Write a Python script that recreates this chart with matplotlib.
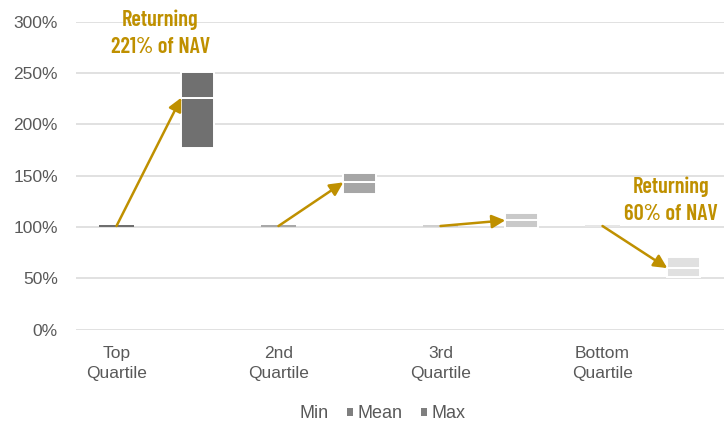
import matplotlib
matplotlib.use("Agg")
import matplotlib.pyplot as plt
from matplotlib.patches import Patch
from matplotlib import font_manager

# ---- data ----
categories = ["Top\nQuartile", "", "2nd\nQuartile", "", "3rd\nQuartile", "", "Bottom\nQuartile", ""]
start_value = [100, 100, 100, 100]          # invested (100% of NAV)
start_top = [102, 102, 102, 102]
min_values = [177, 132, 99.5, 51.5]
mean_values = [226, 143.5, 106.5, 60]
max_values = [251, 153, 114, 71]
quartile_colors = ["#707070", "#a6a6a6", "#c9c9c9", "#e0e0e0"]
start_colors = ["#6e6e6e", "#a8a8a8", "#cfcfcf", "#e6e6e6"]
yticks = [0, 50, 100, 150, 200, 250, 300]
legend_labels = ["Min", "Mean", "Max"]
notes = {0: "Returning\n221% of NAV", 3: "Returning\n60% of NAV"}

gold = "#BF9000"
txt = "#595959"

names = {f.name for f in font_manager.fontManager.ttflist}
narrow = next((n for n in ["Barlow Condensed", "Asap Condensed", "Archivo Narrow"] if n in names),
              "DejaVu Sans")
plt.rcParams["font.family"] = ["Liberation Sans", "DejaVu Sans"]

fig = plt.figure(figsize=(7.24, 4.29), dpi=100)
ax = fig.add_axes([76 / 724, 1 - 329.7 / 429, 648 / 724, 308 / 429])
ax.set_xlim(-0.5, 7.5)
ax.set_ylim(0, 300)

for y in yticks:
    ax.axhline(y, color="#d9d9d9", lw=1.1, zorder=0)

for i in range(4):
    xs = 2 * i
    xb = 2 * i + 1
    # starting point bar
    ax.bar(xs, start_top[i] - start_value[i], bottom=start_value[i], width=0.42,
           color=start_colors[i], lw=0, zorder=2)
    # floating range bar: min->mean and mean->max
    ax.bar(xb, mean_values[i] - min_values[i], bottom=min_values[i], width=0.4,
           color=quartile_colors[i], edgecolor="white", lw=1.4, zorder=2)
    ax.bar(xb, max_values[i] - mean_values[i], bottom=mean_values[i], width=0.4,
           color=quartile_colors[i], edgecolor="white", lw=1.4, zorder=2)
    # arrow
    ax.annotate("", xy=(xb - 0.2, mean_values[i]), xytext=(xs, start_top[i] - 1),
                arrowprops=dict(arrowstyle="-|>", color=gold, lw=1.8,
                                mutation_scale=20, shrinkA=0, shrinkB=0),
                zorder=3)

note_style = dict(ha="center", va="center", color=gold, fontsize=16, fontweight=600,
                  family=[narrow, "DejaVu Sans"], linespacing=1.45)
ax.text(0.54, 289, notes[0], **note_style)
ax.text(6.85, 126, notes[3], **note_style)

ax.set_yticks(yticks)
ax.set_yticklabels([f"{v}%" for v in yticks], fontsize=12.5, color=txt)
ax.set_xticks(range(8))
ax.set_xticklabels(categories, fontsize=12.5, color=txt, linespacing=1.35)
ax.tick_params(axis="y", length=0, pad=13)
ax.tick_params(axis="x", length=0, pad=12)
for s in ax.spines.values():
    s.set_visible(False)

handles = [Patch(facecolor="none", edgecolor="none"),
           Patch(facecolor="#7f7f7f", edgecolor="none"),
           Patch(facecolor="#7f7f7f", edgecolor="none")]
fig.legend(handles, legend_labels, loc="center", bbox_to_anchor=(377 / 724, 1 - 414 / 429),
           ncol=3, frameon=False, fontsize=13, labelcolor=txt,
           handlelength=0.35, handleheight=0.35, handletextpad=0.25, columnspacing=1.0)

fig.savefig("out.png", dpi=100)
